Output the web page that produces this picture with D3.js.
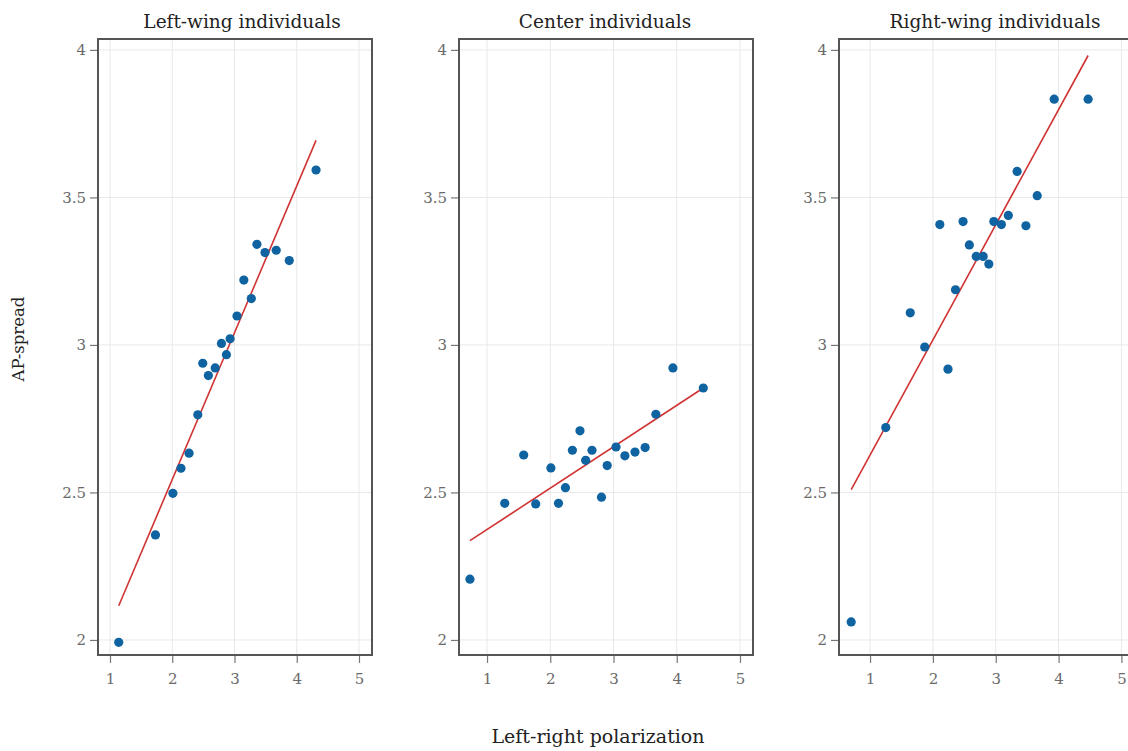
<!DOCTYPE html>
<html>
<head>
<meta charset="utf-8">
<script src="https://cdn.jsdelivr.net/npm/d3@7"></script>
<style>
  html, body { margin: 0; padding: 0; background: #fff; }
  svg { display: block; }
  .title { font-family: "DejaVu Serif", serif; font-size: 18.5px; fill: #222; }
  .axis-title { font-family: "DejaVu Serif", serif; fill: #222; }
  .tick text { font-family: "DejaVu Serif", serif; font-size: 15px; fill: #6a6a6a; }
</style>
</head>
<body>
<svg id="chart" width="1128" height="751"></svg>
<script>
// Panel titles
const panelTitles = ["Left-wing individuals", "Center individuals", "Right-wing individuals"];

// Left-right polarization (x) and AP-spread (y), one pair of arrays per group
const leftX = [1.14, 1.73, 2.01, 2.14, 2.27, 2.41, 2.49, 2.58, 2.69, 2.79, 2.87, 2.93, 3.04, 3.15, 3.27, 3.36, 3.49, 3.67, 3.88, 4.31];
const leftY = [1.992, 2.356, 2.497, 2.582, 2.633, 2.763, 2.938, 2.896, 2.922, 3.005, 2.967, 3.021, 3.098, 3.220, 3.157, 3.341, 3.313, 3.321, 3.286, 3.593];

const centerX = [0.73, 1.28, 1.58, 1.77, 2.01, 2.13, 2.24, 2.35, 2.47, 2.56, 2.66, 2.81, 2.90, 3.04, 3.18, 3.34, 3.50, 3.67, 3.94, 4.42];
const centerY = [2.206, 2.463, 2.627, 2.461, 2.583, 2.463, 2.516, 2.643, 2.709, 2.609, 2.643, 2.484, 2.591, 2.654, 2.624, 2.637, 2.652, 2.765, 2.922, 2.854];

const rightX = [0.70, 1.25, 1.64, 1.87, 2.11, 2.24, 2.36, 2.48, 2.58, 2.69, 2.80, 2.89, 2.97, 3.09, 3.20, 3.34, 3.48, 3.66, 3.93, 4.47];
const rightY = [2.061, 2.720, 3.109, 2.993, 3.408, 2.918, 3.187, 3.418, 3.339, 3.300, 3.300, 3.274, 3.418, 3.408, 3.439, 3.588, 3.404, 3.506, 3.833, 3.833];

// Linear fit per group: [intercept, slope]
const leftFit = [1.549, 0.4975];
const centerFit = [2.234, 0.1403];
const rightFit = [2.236, 0.3904];

// Tick values
const xTicks = [1, 2, 3, 4, 5];
const yTicks = [2, 2.5, 3, 3.5, 4];
const yTickLabels = ["2", "2.5", "3", "3.5", "4"];

// Axis titles
const xAxisTitle = "Left-right polarization";
const yAxisTitle = "AP-spread";

const groups = [
  { title: panelTitles[0], xs: leftX, ys: leftY, fit: leftFit },
  { title: panelTitles[1], xs: centerX, ys: centerY, fit: centerFit },
  { title: panelTitles[2], xs: rightX, ys: rightY, fit: rightFit }
];

// Panel geometry
const frames = [
  { left: 98, right: 372, xDomain: [0.807, 5.209], titleX: 242 },
  { left: 459, right: 753, xDomain: [0.557, 5.206], titleX: 605 },
  { left: 839, right: 1134, xDomain: [0.506, 5.2], titleX: 995 }
];
const plotTop = 39, plotBottom = 655;
const yDomain = [1.949, 4.037];

const svg = d3.select("#chart");
const y = d3.scaleLinear().domain(yDomain).range([plotBottom, plotTop]);

groups.forEach((g, i) => {
  const f = frames[i];
  const x = d3.scaleLinear().domain(f.xDomain).range([f.left, f.right]);
  const panel = svg.append("g");

  // grid
  panel.append("g").selectAll("line").data(xTicks).join("line")
    .attr("x1", d => x(d)).attr("x2", d => x(d))
    .attr("y1", plotTop).attr("y2", plotBottom)
    .attr("stroke", "#e9e9e9").attr("stroke-width", 1);
  panel.append("g").selectAll("line").data(yTicks).join("line")
    .attr("x1", f.left).attr("x2", f.right)
    .attr("y1", d => y(d)).attr("y2", d => y(d))
    .attr("stroke", "#e9e9e9").attr("stroke-width", 1);

  // axes
  const xAxis = d3.axisBottom(x).tickValues(xTicks).tickSize(8).tickPadding(10).tickFormat(d3.format("d"));
  const yAxis = d3.axisLeft(y).tickValues(yTicks).tickSize(8).tickPadding(4)
    .tickFormat((d, k) => yTickLabels[k]);
  const gx = panel.append("g").attr("transform", `translate(0,${plotBottom})`).call(xAxis);
  const gy = panel.append("g").attr("transform", `translate(${f.left},0)`).call(yAxis);
  [gx, gy].forEach(a => {
    a.select(".domain").remove();
    a.selectAll(".tick line").attr("stroke", "#777").attr("stroke-width", 1.2);
  });

  // fitted line over the observed x range
  const x0 = d3.min(g.xs), x1 = d3.max(g.xs);
  panel.append("line")
    .attr("x1", x(x0)).attr("y1", y(g.fit[0] + g.fit[1] * x0))
    .attr("x2", x(x1)).attr("y2", y(g.fit[0] + g.fit[1] * x1))
    .attr("stroke", "#d03333").attr("stroke-width", 1.6);

  // points
  panel.append("g").selectAll("circle").data(d3.range(g.xs.length)).join("circle")
    .attr("cx", k => x(g.xs[k])).attr("cy", k => y(g.ys[k]))
    .attr("r", 4.6).attr("fill", "#0f63a0");

  // frame
  panel.append("rect")
    .attr("x", f.left).attr("y", plotTop)
    .attr("width", f.right - f.left).attr("height", plotBottom - plotTop)
    .attr("fill", "none").attr("stroke", "#555").attr("stroke-width", 2);

  // title
  panel.append("text").attr("class", "title")
    .attr("x", f.titleX).attr("y", 28).attr("text-anchor", "middle")
    .text(g.title);
});

svg.append("text").attr("class", "axis-title")
  .attr("x", 598).attr("y", 743).attr("text-anchor", "middle")
  .style("font-size", "19px")
  .text(xAxisTitle);
svg.append("text").attr("class", "axis-title")
  .attr("transform", "translate(24,339) rotate(-90)").attr("text-anchor", "middle")
  .style("font-size", "16.5px")
  .text(yAxisTitle);
</script>
</body>
</html>
